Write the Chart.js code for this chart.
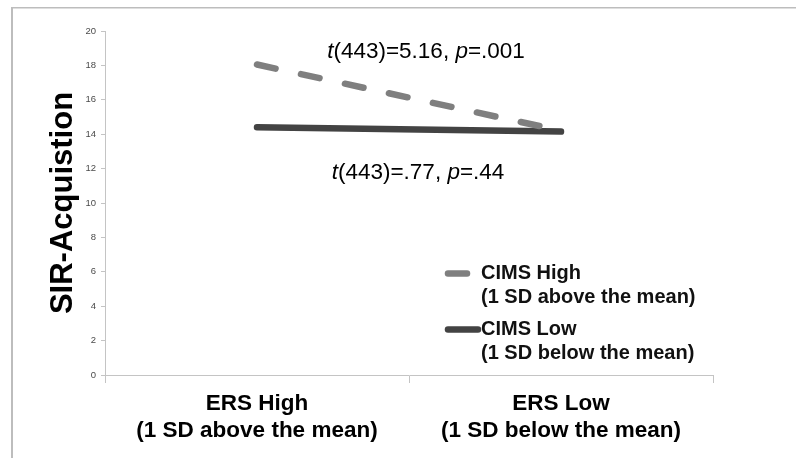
<!DOCTYPE html>
<html>
<head>
<meta charset="utf-8">
<script src="https://cdn.jsdelivr.net/npm/chart.js@4/dist/chart.umd.min.js"></script>
<style>
  html, body { margin: 0; padding: 0; background: #ffffff; }
  canvas { display: block; }
</style>
</head>
<body>
<canvas id="chart" width="796" height="458"></canvas>
<script>
// Simple-slopes plot: SIR-Acquisition by ERS level, one line per CIMS level
const categories = [
  ['ERS High', '(1 SD above the mean)'],
  ['ERS Low', '(1 SD below the mean)']
];
const cimsHigh = [18.05, 14.2];
const cimsLow = [14.4, 14.15];
const seriesNames = [
  ['CIMS High', '(1 SD above the mean)'],
  ['CIMS Low', '(1 SD below the mean)']
];
const yMin = 0;
const yMax = 20;
const yStep = 2;
const yTitle = 'SIR-Acquistion';
// slope tests; each piece is [text, italic]
const slopeTestHigh = [['t', true], ['(443)=5.16, ', false], ['p', true], ['=.001', false]];
const slopeTestLow = [['t', true], ['(443)=.77, ', false], ['p', true], ['=.44', false]];

const FONT = '"Liberation Sans", Arial, Helvetica, sans-serif';
const AXIS_GREY = '#c4c4c4';

// light frame around the figure
const framePlugin = {
  id: 'frame',
  beforeDraw(chart) {
    const ctx = chart.ctx;
    ctx.save();
    ctx.fillStyle = '#ffffff';
    ctx.fillRect(0, 0, chart.width, chart.height);
    ctx.fillStyle = '#bdbdbd';
    ctx.fillRect(11, 7, 2, chart.height - 7);
    ctx.fillRect(11, 7, chart.width - 11, 1.5);
    ctx.restore();
  }
};

function drawMixed(ctx, pieces, cx, cy, size) {
  ctx.save();
  ctx.textBaseline = 'middle';
  ctx.fillStyle = '#000000';
  let total = 0;
  const widths = pieces.map(([txt, it]) => {
    ctx.font = (it ? 'italic ' : '') + size + 'px ' + FONT;
    const w = ctx.measureText(txt).width;
    total += w;
    return w;
  });
  let x = cx - total / 2;
  pieces.forEach(([txt, it], i) => {
    ctx.font = (it ? 'italic ' : '') + size + 'px ' + FONT;
    ctx.textAlign = 'left';
    ctx.fillText(txt, x, cy);
    x += widths[i];
  });
  ctx.restore();
}

// slope-test annotations and the legend box
const notesPlugin = {
  id: 'notes',
  afterDatasetsDraw(chart) {
    const ctx = chart.ctx;
    const area = chart.chartArea;
    const mid = (area.left + area.right) / 2;
    drawMixed(ctx, slopeTestHigh, mid + 17, area.top + 21, 22.5);
    drawMixed(ctx, slopeTestLow, mid + 9, area.top + 142, 22.5);

    // legend
    const lx = 448;
    const rows = [{ y: 273.5, x2: 467 }, { y: 329.5, x2: 478 }];
    chart.data.datasets.forEach((ds, i) => {
      const r = rows[i];
      ctx.save();
      ctx.strokeStyle = ds.borderColor;
      ctx.lineWidth = 6.5;
      ctx.lineCap = 'round';
      ctx.beginPath();
      ctx.moveTo(lx, r.y);
      ctx.lineTo(r.x2, r.y);
      ctx.stroke();
      ctx.fillStyle = '#111111';
      ctx.font = 'bold 20px ' + FONT;
      ctx.textBaseline = 'middle';
      ctx.textAlign = 'left';
      seriesNames[i].forEach((line, k) => {
        ctx.fillText(line, 481, r.y + k * 24);
      });
      ctx.restore();
    });
  }
};

new Chart(document.getElementById('chart'), {
  type: 'line',
  data: {
    labels: categories,
    datasets: [
      {
        label: seriesNames[0].join(' '),
        data: cimsHigh,
        borderColor: '#7f7f7f',
        borderWidth: 6.5,
        borderDash: [19, 26],
        borderCapStyle: 'round',
        pointRadius: 0,
        pointHoverRadius: 0,
        fill: false,
        tension: 0
      },
      {
        label: seriesNames[1].join(' '),
        data: cimsLow,
        borderColor: '#434343',
        borderWidth: 6.5,
        borderCapStyle: 'round',
        pointRadius: 0,
        pointHoverRadius: 0,
        fill: false,
        tension: 0
      }
    ]
  },
  options: {
    responsive: false,
    animation: false,
    devicePixelRatio: 1,
    layout: { padding: { top: 31, right: 83, left: 0, bottom: 0 } },
    plugins: {
      legend: { display: false },
      tooltip: { enabled: false }
    },
    scales: {
      x: {
        offset: true,
        grid: {
          offset: true,
          drawOnChartArea: false,
          drawTicks: true,
          tickLength: 8,
          color: AXIS_GREY
        },
        border: { color: AXIS_GREY, width: 1 },
        ticks: {
          color: '#000000',
          font: { family: FONT, size: 22.5, weight: 'bold', lineHeight: 1.2 },
          padding: 7,
          maxRotation: 0,
          autoSkip: false
        },
        afterFit(scale) { scale.height = 83; }
      },
      y: {
        min: yMin,
        max: yMax,
        ticks: {
          stepSize: yStep,
          color: '#4a4a4a',
          font: { family: FONT, size: 9.5 },
          padding: 5
        },
        grid: {
          drawOnChartArea: false,
          drawTicks: true,
          tickLength: 4,
          color: AXIS_GREY
        },
        border: { color: AXIS_GREY, width: 1 },
        title: {
          display: true,
          text: yTitle,
          color: '#000000',
          font: { family: FONT, size: 31, weight: 'bold', lineHeight: 1.2 },
          padding: { top: 45, bottom: 0 }
        },
        afterFit(scale) { scale.width = 105; }
      }
    }
  },
  plugins: [framePlugin, notesPlugin]
});
</script>
</body>
</html>
